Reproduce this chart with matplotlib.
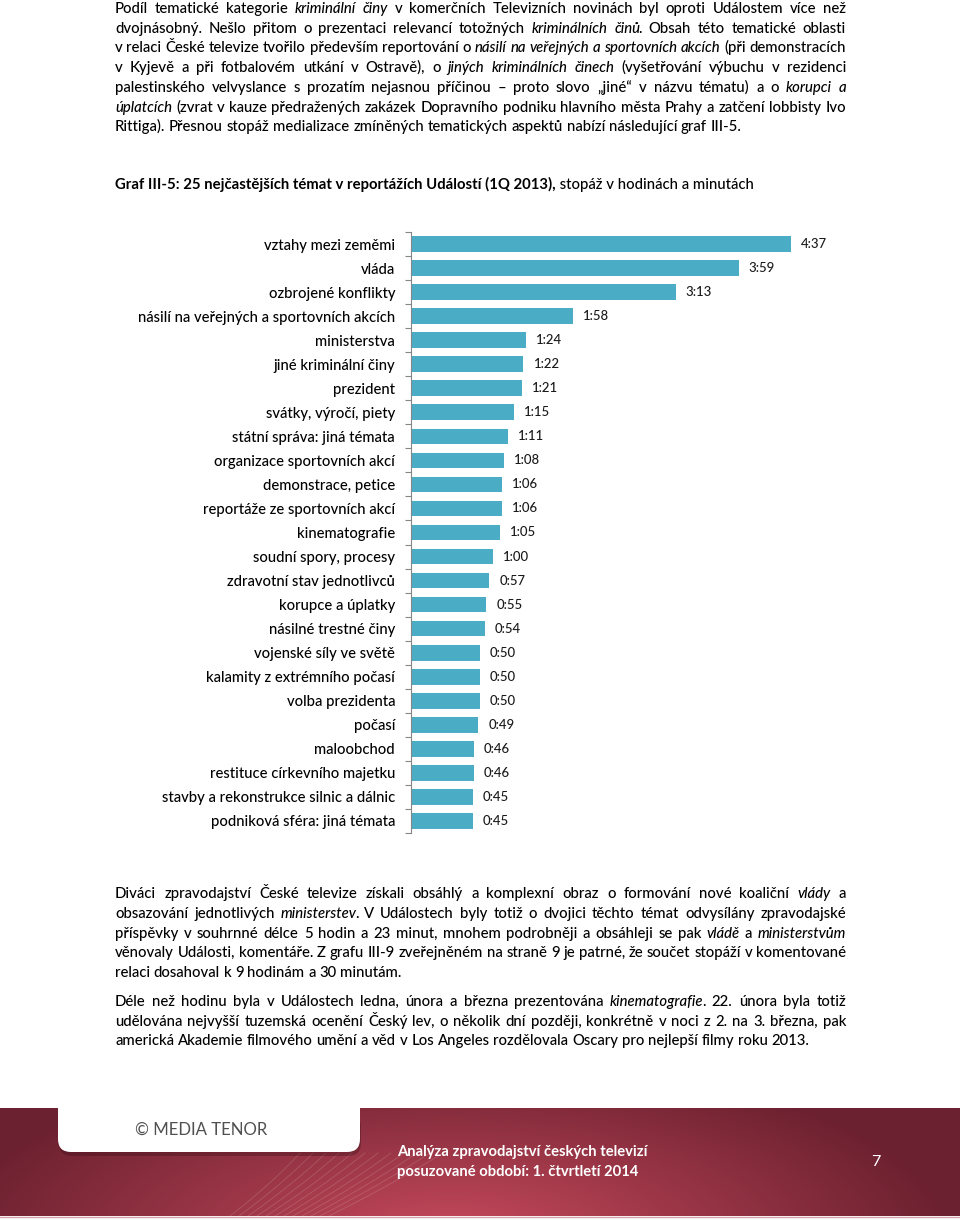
import matplotlib
matplotlib.use('Agg')
import numpy as np
import matplotlib.pyplot as plt
from matplotlib.patches import FancyBboxPatch

plt.rcParams['font.family'] = ['Lato', 'DejaVu Sans']
BODY_W = 'medium'

# chart data (minutes)
categories = ['vztahy mezi zeměmi', 'vláda', 'ozbrojené konflikty',
              'násilí na veřejných a sportovních akcích', 'ministerstva',
              'jiné kriminální činy', 'prezident', 'svátky, výročí, piety',
              'státní správa: jiná témata', 'organizace sportovních akcí',
              'demonstrace, petice', 'reportáže ze sportovních akcí',
              'kinematografie', 'soudní spory, procesy',
              'zdravotní stav jednotlivců', 'korupce a úplatky',
              'násilné trestné činy', 'vojenské síly ve světě',
              'kalamity z extrémního počasí', 'volba prezidenta', 'počasí',
              'maloobchod', 'restituce církevního majetku',
              'stavby a rekonstrukce silnic a dálnic',
              'podniková sféra: jiná témata']
minutes = [277, 239, 193, 118, 84, 82, 81, 75, 71, 68, 66, 66, 65, 60,
           57, 55, 54, 50, 50, 50, 49, 46, 46, 45, 45]

# page text, *...* = italic
para1 = [
    'Podíl tematické kategorie *kriminální činy* v komerčních Televizních novinách byl oproti Událostem více než',
    'dvojnásobný. Nešlo přitom o prezentaci relevancí totožných *kriminálních činů*. Obsah této tematické oblasti',
    'v relaci České televize tvořilo především reportování o *násilí na veřejných a sportovních akcích* (při demonstracích',
    'v Kyjevě a při fotbalovém utkání v Ostravě), o *jiných kriminálních činech* (vyšetřování výbuchu v rezidenci',
    'palestinského velvyslance s prozatím nejasnou příčinou – proto slovo „jiné“ v názvu tématu) a o *korupci a*',
    '*úplatcích* (zvrat v kauze předražených zakázek Dopravního podniku hlavního města Prahy a zatčení lobbisty Ivo',
    'Rittiga). Přesnou stopáž medializace zmíněných tematických aspektů nabízí následující graf III-5.',
]
para2 = [
    'Diváci zpravodajství České televize získali obsáhlý a komplexní obraz o formování nové koaliční *vlády* a',
    'obsazování jednotlivých *ministerstev*. V Událostech byly totiž o dvojici těchto témat odvysílány zpravodajské',
    'příspěvky v souhrnné délce 5 hodin a 23 minut, mnohem podrobněji a obsáhleji se pak *vládě* a *ministerstvům*',
    'věnovaly Události, komentáře. Z grafu III-9 zveřejněném na straně 9 je patrné, že součet stopáží v komentované',
    'relaci dosahoval k 9 hodinám a 30 minutám.',
]
para3 = [
    'Déle než hodinu byla v Událostech ledna, února a března prezentována *kinematografie*. 22. února byla totiž',
    'udělována nejvyšší tuzemská ocenění Český lev, o několik dní později, konkrétně v noci z 2. na 3. března, pak',
    'americká Akademie filmového umění a věd v Los Angeles rozdělovala Oscary pro nejlepší filmy roku 2013.',
]
title_bold = 'Graf III-5: 25 nejčastějších témat v reportážích Událostí (1Q 2013),'
title_rest = ' stopáž v hodinách a minutách'
footer1 = 'Analýza zpravodajství českých televizí'
footer2 = 'posuzované období: 1. čtvrtletí 2014'

W, H = 960, 1220
fig = plt.figure(figsize=(W / 100, H / 100), dpi=100)
renderer = fig.canvas.get_renderer()

bg = fig.add_axes([0, 0, 1, 1])
bg.set_axis_off()


def text_w(s, size, weight=BODY_W, style='normal'):
    t = fig.text(0, 0, s, fontsize=size, fontweight=weight, fontstyle=style)
    w = t.get_window_extent(renderer).width
    t.remove()
    return w


def adv(s, size, weight=BODY_W, style='normal'):
    # advance width, not ink width
    return text_w('n' + s + 'n', size, weight, style) - text_w('nn', size, weight, style)


def fit(s, target, weight=BODY_W):
    return 10 * target / text_w(s, 10, weight)


def parse(line):
    words, cur, buf, ital = [], [], '', False
    for ch in line:
        if ch == '*':
            if buf:
                cur.append((buf, ital))
                buf = ''
            ital = not ital
        elif ch == ' ':
            if buf:
                cur.append((buf, ital))
                buf = ''
            if cur:
                words.append(cur)
                cur = []
        else:
            buf += ch
    if buf:
        cur.append((buf, ital))
    if cur:
        words.append(cur)
    return words


def piece_widths(word, size):
    ws = []
    for j, (t, it) in enumerate(word):
        w = adv(t, size, style='italic' if it else 'normal')
        if it and j + 1 < len(word):
            w -= 1.5  # tighten italic -> upright join
        ws.append(w)
    return ws


def natural_w(line, size):
    words = parse(line)
    sp = adv(' ', size)
    tot = sum(sum(piece_widths(w, size)) for w in words)
    return tot + sp * (len(words) - 1)


X0, X1 = 115, 846


def draw_para(lines, y0, dy, size):
    sp = adv(' ', size)
    base = 0.36 * size * 100 / 72
    for i, line in enumerate(lines):
        words = parse(line)
        widths = [piece_widths(w, size) for w in words]
        totals = [sum(ws) for ws in widths]
        last = (i == len(lines) - 1)
        gap = sp if last else (X1 - X0 - sum(totals)) / (len(words) - 1)
        x = X0
        y = y0 + dy * i + base
        for w, ws, tot in zip(words, widths, totals):
            px = x
            for (t, it), wi in zip(w, ws):
                bg.text(px, y, t, fontsize=size, fontweight=BODY_W,
                        fontstyle='italic' if it else 'normal',
                        va='baseline', ha='left', color='black')
                px += wi
            x += tot + gap


# body font size: the tightest justified line fits the column
just_lines = para1[:-1] + para2[:-1] + para3[:-1]
body_size = 10 * min((X1 - X0) / natural_w(l, 10) for l in just_lines)

draw_para(para1, 7.5, 19.75, body_size)
draw_para(para2, 893, 19.6, body_size)
draw_para(para3, 1000.5, 19.8, body_size)

# chart title
t_size = 10 * 638 / (adv(title_bold, 10, 'bold') + adv(title_rest, 10))
bw = adv(title_bold, t_size, 'bold')
tb = 184 + 0.36 * t_size * 100 / 72
bg.text(115, tb, title_bold, fontsize=t_size, fontweight='bold', va='baseline', ha='left')
bg.text(115 + bw, tb, title_rest, fontsize=t_size, fontweight=BODY_W, va='baseline', ha='left')

# footer band with gradient
ys = np.linspace(1108, 1216, 108)
xs = np.linspace(0, 960, 960)
Xg, Yg = np.meshgrid(xs, ys)
tg = np.sqrt(((Xg - 450) / 500) ** 2 + ((Yg - 1235) / 180) ** 2)
tg = np.clip(tg, 0, 1)[..., None]
light = np.array([0xc6, 0x4a, 0x5c]) / 255
dark = np.array([0x6c, 0x21, 0x30]) / 255
img = light * (1 - tg) + dark * tg
bg.imshow(img, extent=(0, 960, 1216, 1108), aspect='auto', zorder=1)
bg.plot([0, 960], [1216.5, 1216.5], color='#d2a5ad', lw=1, zorder=2)

# faint decorative curves
for k in range(12):
    yy = np.linspace(1153, 1216, 30)
    s = (yy - 1153) / 63
    xx = 300 + 13 * k - (70 + 4 * k) * s + 12 * s * (1 - s)
    bg.plot(xx, yy, color='white', alpha=0.16, lw=0.6, zorder=2)

# white tab with soft shadow below
bg.add_patch(FancyBboxPatch((59, 1114), 302, 42, boxstyle='round,pad=0,rounding_size=13',
                            fc='#3a0d16', ec='none', alpha=0.35, zorder=3))
bg.add_patch(FancyBboxPatch((58, 1060), 302, 92, boxstyle='round,pad=0,rounding_size=13',
                            fc='white', ec='none', zorder=4))
mt_size = fit('© MEDIA TENOR', 132, 'normal')
bg.text(201, 1130, '© MEDIA TENOR', fontsize=mt_size, color='#505050', va='center', ha='center', zorder=5)

f_size = fit(footer1, 251, 'bold')
bg.text(397, 1152, footer1, fontsize=f_size, fontweight='bold', color='white', va='center', ha='left', zorder=5)
bg.text(397, 1172, footer2, fontsize=f_size, fontweight='bold', color='white', va='center', ha='left', zorder=5)
bg.text(876, 1162, '7', fontsize=f_size * 1.1, color='white', va='center', ha='center', zorder=5)

bg.set_xlim(0, W)
bg.set_ylim(H, 0)

# bar chart
ax_left, ax_right, ax_top, ax_bot = 411, 860, 232, 833
px_per_min = (791 - 411) / 277
ax = fig.add_axes([ax_left / W, 1 - ax_bot / H, (ax_right - ax_left) / W, (ax_bot - ax_top) / H])
ax.patch.set_alpha(0)
pos = np.arange(len(categories))
ax.barh(pos, minutes, height=0.65, color='#4BACC6')
ax.set_xlim(0, (ax_right - ax_left) / px_per_min)
ax.set_ylim(len(categories) - 0.5, -0.5)

cat_size = fit('násilí na veřejných a sportovních akcích', 258)
val_size = fit('4:37', 26)
ax.set_yticks(pos, categories, fontsize=cat_size, fontweight=BODY_W)
ax.set_yticks(np.arange(-0.5, len(categories), 1), minor=True)
ax.tick_params(axis='y', which='major', length=0, pad=11.5)
ax.tick_params(axis='y', which='minor', length=4.5, width=0.8, color='#868686')
ax.set_xticks([])
for side in ['top', 'right', 'bottom']:
    ax.spines[side].set_visible(False)
ax.spines['left'].set_color('#868686')
ax.spines['left'].set_linewidth(0.8)

for i, m in enumerate(minutes):
    ax.annotate(f'{m // 60}:{m % 60:02d}', (m, i), xytext=(10, 0), textcoords='offset pixels',
                fontsize=val_size, fontweight=BODY_W, va='center', ha='left', color='#1a1a1a')

fig.savefig('out.png', dpi=100)
